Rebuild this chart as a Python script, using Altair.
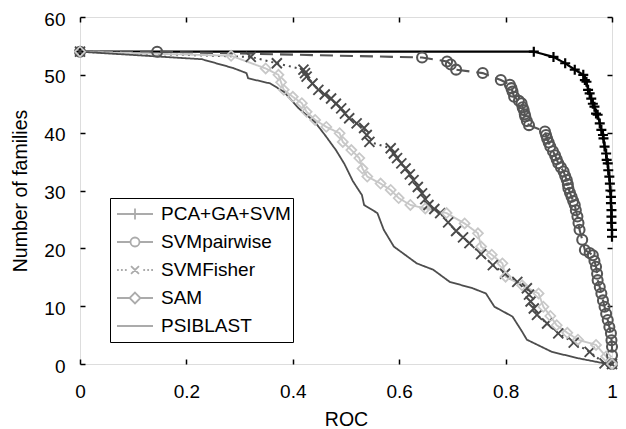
import altair as alt
import pandas as pd

series_names = ["PCA+GA+SVM", "SVMpairwise", "SVMFisher", "SAM", "PSIBLAST"]

pca_x = [0, 0.853, 0.890, 0.912, 0.930, 0.946, 0.949, 0.952, 0.955, 0.958, 0.961, 0.964, 0.967, 0.970,
         0.973, 0.977, 0.980, 0.983, 0.984, 0.986, 0.989, 0.990, 0.992, 0.993, 0.995, 0.996, 0.997,
         0.998, 0.998, 0.999, 0.999, 0.999, 1.0, 1.0]
pca_y = [54, 54, 53.1, 52.0, 50.9, 50.0, 49.1, 48.8, 47.4, 46.8, 45.9, 45.0, 44.5, 43.3,
         43.1, 41.6, 40.5, 39.6, 39.0, 37.6, 36.4, 35.3, 34.7, 33.5, 32.4, 31.2, 30.0,
         28.9, 27.8, 26.6, 25.5, 24.4, 23.2, 22.0]

pair_x = [0, 0.145, 0.643, 0.690, 0.697, 0.707, 0.757, 0.791, 0.808, 0.811, 0.813, 0.816, 0.825, 0.830,
          0.832, 0.834, 0.836, 0.837, 0.840, 0.844, 0.874, 0.876, 0.878, 0.881, 0.884, 0.889, 0.893,
          0.896, 0.899, 0.904, 0.909, 0.912, 0.915, 0.917, 0.918, 0.921, 0.924, 0.927, 0.930, 0.932,
          0.935, 0.937, 0.939, 0.944, 0.949, 0.958, 0.964, 0.967, 0.970, 0.972, 0.973, 0.977, 0.980,
          0.983, 0.986, 0.989, 0.992, 0.995, 0.998, 0.999, 1.0, 1.0, 1.0]
pair_y = [54, 54, 53.0, 52.3, 51.8, 50.9, 50.3, 49.1, 48.3, 47.7, 47.1, 46.2, 45.5, 45.1,
          44.4, 43.9, 43.2, 42.8, 42.0, 41.3, 40.2, 39.6, 39.0, 38.3, 37.6, 36.8, 36.1,
          35.4, 34.7, 34.0, 33.3, 32.5, 31.8, 31.1, 30.4, 29.6, 28.9, 28.2, 27.5, 26.6,
          25.5, 24.4, 23.2, 21.5, 19.7, 19.2, 18.8, 17.8, 16.8, 15.6, 14.5, 13.3, 12.2,
          11.0, 9.9, 8.7, 7.6, 6.4, 5.3, 4.1, 3.0, 1.5, 0]

fisher_x = [0, 0.321, 0.370, 0.420, 0.423, 0.426, 0.437, 0.448, 0.460, 0.472, 0.481, 0.491, 0.498, 0.506,
            0.520, 0.534, 0.539, 0.544, 0.584, 0.590, 0.596, 0.604, 0.612, 0.620, 0.627, 0.635, 0.643,
            0.649, 0.655, 0.666, 0.677, 0.692, 0.707, 0.720, 0.732, 0.754, 0.776, 0.799, 0.822, 0.840,
            0.844, 0.847, 0.853, 0.859, 0.878, 0.899, 0.928, 0.958, 0.986, 1.0]
fisher_y = [54, 53.1, 52.0, 50.9, 50.3, 49.7, 48.5, 47.4, 46.6, 45.9, 45.0, 44.2, 43.3, 42.5,
            41.6, 40.8, 39.6, 38.4, 37.3, 36.4, 35.6, 34.7, 33.8, 32.8, 31.8, 30.6, 29.5,
            28.5, 27.5, 26.8, 26.1, 24.5, 23.0, 21.9, 20.9, 19.0, 17.1, 15.6, 14.2, 13.1,
            12.0, 10.8, 9.6, 8.5, 7.0, 5.3, 3.7, 2.1, 0.1, 0]

sam_x = [0, 0.284, 0.349, 0.373, 0.378, 0.383, 0.400, 0.417, 0.426, 0.442, 0.463, 0.488, 0.494, 0.510,
         0.525, 0.531, 0.540, 0.565, 0.584, 0.599, 0.621, 0.649, 0.689, 0.723, 0.748, 0.754, 0.774,
         0.794, 0.800, 0.831, 0.862, 0.871, 0.884, 0.896, 0.916, 0.936, 0.970, 0.989, 1.0]
sam_y = [54, 53.3, 51.1, 50.0, 48.7, 47.4, 46.2, 45.1, 43.6, 42.2, 41.0, 39.9, 38.4, 37.0,
         35.6, 33.8, 32.4, 31.2, 30.1, 28.7, 27.5, 26.9, 26.1, 24.3, 22.6, 20.3, 18.9,
         17.4, 15.1, 13.6, 12.2, 9.9, 8.3, 6.7, 5.4, 4.2, 3.3, 1.3, 0]

psi_x = [0, 0.229, 0.287, 0.313, 0.316, 0.358, 0.384, 0.410, 0.442, 0.462, 0.481, 0.497, 0.513, 0.530,
         0.534, 0.559, 0.571, 0.590, 0.633, 0.664, 0.695, 0.738, 0.763, 0.779, 0.813, 0.831, 0.840,
         0.887, 0.936, 0.986, 1.0]
psi_y = [54, 52.7, 51.2, 50.3, 49.4, 48.5, 47.0, 44.3, 41.8, 39.4, 37.0, 34.6, 31.6, 29.2,
         27.5, 26.1, 23.2, 20.3, 17.4, 16.3, 14.2, 13.1, 12.2, 9.9, 8.2, 5.6, 4.2,
         2.1, 1.0, 0.1, 0]

x_ticks = [0, 0.2, 0.4, 0.6, 0.8, 1.0]
y_ticks = [0, 10, 20, 30, 40, 50, 60]

colors = ["#000000", "#555555", "#4a4a4a", "#c8c8c8", "#4d4d4d"]
dashes = [[1, 0], [13, 7], [2, 4], [1, 0], [1, 0]]
line_widths = [2.2, 1.8, 1.8, 1.8, 1.9]
marker_shapes = ["M-1,0H1M0,-1V1", "circle", "M-1,-1L1,1M-1,1L1,-1", "diamond", "circle"]
marker_sizes = [100, 100, 64, 110, 0]
marker_widths = [2.2, 1.6, 2.2, 1.6, 1.0]
legend_shapes = [
    "M-1,0H1M0,-0.3V0.3",
    "M-1,0H-0.25M0.25,0H1M0.25,0A0.25,0.25,0,1,1,-0.25,0A0.25,0.25,0,1,1,0.25,0",
    "M-1,0H-0.9M-0.78,0H-0.68M-0.56,0H-0.46M0.46,0H0.56M0.68,0H0.78M0.9,0H1"
    "M-0.22,-0.22L0.22,0.22M-0.22,0.22L0.22,-0.22",
    "M-1,0H-0.3M0.3,0H1M0,-0.3L0.3,0L0,0.3L-0.3,0Z",
    "M-1,0H1",
]

rows = []
for name, xs, ys in zip(series_names,
                        [pca_x, pair_x, fisher_x, sam_x, psi_x],
                        [pca_y, pair_y, fisher_y, sam_y, psi_y]):
    for i, (xv, yv) in enumerate(zip(xs, ys)):
        rows.append({"series": name, "x": xv, "y": yv, "ord": i})
df = pd.DataFrame(rows)

W, H = 532, 347
xscale = alt.Scale(domain=[0, 1], nice=False, zero=False)
yscale = alt.Scale(domain=[0, 60], nice=False)
cscale = alt.Scale(domain=series_names, range=colors)
FONT = 19


def make_legend():
    return alt.Legend(
        orient="none", legendX=30, legendY=181, title=None, labelFontSize=19,
        labelColor="black", symbolSize=1296, symbolStrokeWidth=1.8, clipHeight=28,
        rowPadding=0, padding=2, strokeColor="black", fillColor="white", symbolOffset=4,
        labelOffset=7, cornerRadius=0, labelLimit=300,
        labelExpr="pad(datum.label, 16, '\u2002', 'right')")


base = alt.Chart(df)

lines = base.mark_line(strokeJoin="miter").encode(
    x=alt.X("x:Q", scale=xscale, axis=alt.Axis(
        orient="bottom", values=x_ticks, format="~g", ticks=False, tickSize=0, domain=False,
        grid=False, labelFontSize=FONT, labelPadding=18, labelFlush=False, labelColor="black",
        title="ROC", titleFontSize=19.5, titleFontWeight="normal", titleColor="black",
        titleX=W / 2, titleY=55, titleBaseline="middle", titleAlign="center")),
    y=alt.Y("y:Q", scale=yscale, axis=alt.Axis(
        orient="left", values=y_ticks, ticks=False, tickSize=0, domain=False, grid=False,
        labelFontSize=FONT, labelPadding=15, labelOffset=2, labelFlush=False, labelColor="black",
        title="Number of families", titleFontSize=19.5, titleFontWeight="normal",
        titleColor="black", titleX=-60, titleY=H / 2, titleAngle=-90,
        titleBaseline="middle", titleAlign="center")),
    color=alt.Color("series:N", scale=cscale, legend=None),
    strokeDash=alt.StrokeDash("series:N", scale=alt.Scale(domain=series_names, range=dashes), legend=None),
    strokeWidth=alt.StrokeWidth("series:N", scale=alt.Scale(domain=series_names, range=line_widths),
                                legend=None),
    order=alt.Order("ord:Q"),
    detail="series:N",
)

markers = base.transform_filter(alt.datum.series != "PSIBLAST").mark_point(
    filled=False, opacity=1
).encode(
    x=alt.X("x:Q", scale=xscale, axis=alt.Axis(
        orient="bottom", offset=-5, values=x_ticks, tickSize=5, tickWidth=1.5, tickColor="black",
        labels=False, domain=False, grid=False, title=None)),
    y=alt.Y("y:Q", scale=yscale, axis=alt.Axis(
        orient="left", offset=-5, values=y_ticks, tickSize=5, tickWidth=1.5, tickColor="black",
        labels=False, domain=False, grid=False, title=None)),
    color=alt.Color("series:N", scale=cscale, legend=None),
    shape=alt.Shape("series:N", scale=alt.Scale(domain=series_names, range=marker_shapes), legend=None),
    size=alt.Size("series:N", scale=alt.Scale(domain=series_names, range=marker_sizes), legend=None),
    strokeWidth=alt.StrokeWidth("series:N", scale=alt.Scale(domain=series_names, range=marker_widths),
                                legend=None),
)

legend_layer = base.transform_filter(alt.datum.ord == 0).mark_point(
    filled=False, size=0, strokeWidth=1.8
).encode(
    x=alt.X("x:Q", scale=xscale, axis=alt.Axis(
        orient="top", offset=-5, values=x_ticks, tickSize=5, tickWidth=1.5, tickColor="black",
        labels=False, domain=False, grid=False, title=None)),
    y=alt.Y("y:Q", scale=yscale, axis=alt.Axis(
        orient="right", offset=-5, values=y_ticks, tickSize=5, tickWidth=1.5, tickColor="black",
        labels=False, domain=False, grid=False, title=None)),
    color=alt.Color("series:N", scale=cscale, legend=make_legend()),
    shape=alt.Shape("series:N", scale=alt.Scale(domain=series_names, range=legend_shapes),
                    legend=make_legend()),
)

chart = alt.layer(lines, markers, legend_layer).resolve_scale(
    shape="independent", size="independent", strokeWidth="independent"
).resolve_axis(
    x="independent", y="independent"
).properties(
    width=W, height=H,
    autosize=alt.AutoSizeParams(type="none"),
    padding={"left": 72, "top": 9, "right": 6, "bottom": 64},
).configure_view(
    stroke="black", strokeWidth=2
).configure(
    font="Liberation Sans"
)

chart.save("out.html", embed_options={"renderer": "svg", "actions": False})
